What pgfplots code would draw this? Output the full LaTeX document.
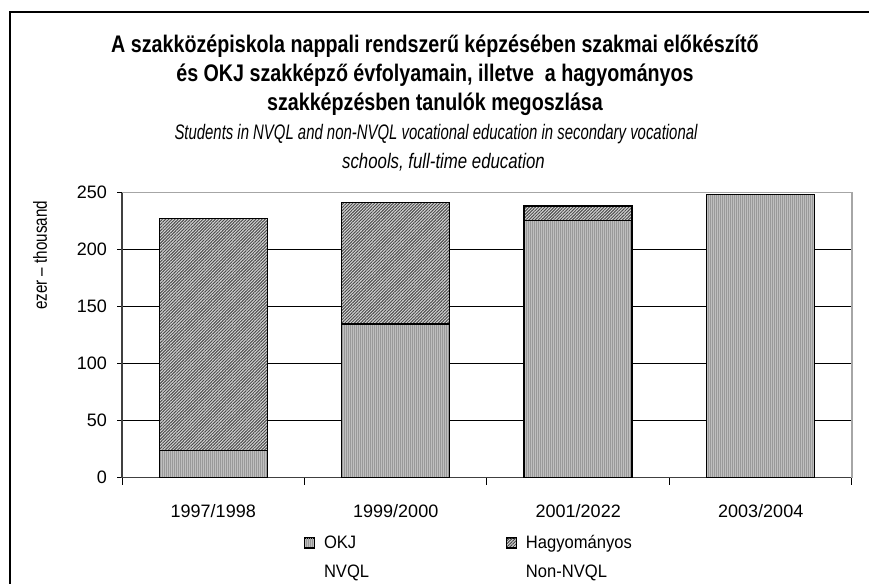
\documentclass[border=0pt]{standalone}
\usepackage{fontspec}
\setmainfont{Liberation Sans}
\newfontfamily\titlefont{Liberation Sans}[FakeStretch=0.82]
\newfontfamily\subfont{Liberation Sans}[FakeStretch=0.71]
\newfontfamily\subfontb{Liberation Sans}[FakeStretch=0.8]
\newfontfamily\legfont{Liberation Sans}[FakeStretch=0.92]
\newfontfamily\ylfont{Liberation Sans}[FakeStretch=0.8]
\usepackage{pgfplots}
\pgfplotsset{compat=1.18}
\usetikzlibrary{patterns.meta}
\pgfplotsset{
  boxlegend/.style={legend image code/.code={
    \draw[##1, line width=0.5pt] (0pt,0.5pt) rectangle (5pt,5.5pt);
  }},
}
\begin{document}
\begin{tikzpicture}
\useasboundingbox (0,0) rectangle (434.5pt,292pt);
\draw[line width=0.75pt] (5pt,0) -- (5pt,286pt) -- (434.5pt,286pt);
\node[anchor=base,font=\titlefont\bfseries\fontsize{12}{14}\selectfont] at (217.5pt,265.5pt) {A szakközépiskola nappali rendszerű képzésében szakmai előkészítő};
\node[anchor=base,font=\titlefont\bfseries\fontsize{12}{14}\selectfont] at (217.5pt,251pt) {és OKJ szakképző évfolyamain, illetve\ \ a hagyományos};
\node[anchor=base,font=\titlefont\bfseries\fontsize{12}{14}\selectfont] at (217.5pt,236.5pt) {szakképzésben tanulók megoszlása};
\node[anchor=base,font=\subfont\itshape\fontsize{10.5}{12}\selectfont] at (218pt,222pt) {Students in NVQL and non-NVQL vocational education in secondary vocational};
\node[anchor=base,font=\subfontb\itshape\fontsize{10.5}{12}\selectfont] at (221.75pt,207.5pt) {schools, full-time education};
\begin{axis}[
  at={(61pt,53.15pt)}, anchor=south west,
  width=365pt, height=142.5pt, scale only axis,
  clip=false,
  ybar stacked, bar width=54pt,
  every axis plot post/.append style={boxlegend},
  xmin=-0.5, xmax=3.5, ymin=0, ymax=250,
  xtick={0,1,2,3},
  xticklabels={1997/1998,1999/2000,2001/2022,2003/2004},
  major x tick style={draw=none},
  minor xtick={-0.5,0.5,1.5,2.5,3.5},
  minor tick length=3.5pt,
  ytick={0,50,100,150,200,250},
  tick align=outside, major tick length=2.5pt,
  tick style={black, line width=0.5pt},
  axis x line*=bottom, axis y line*=left,
  axis line style={black!75, line width=0.75pt},
  ymajorgrids, grid style={black, line width=0.5pt},
  /pgf/number format/assume math mode=true,
  ticklabel style={font=\fontsize{9}{10}\selectfont},
  xticklabel style={anchor=base, yshift=-17.5pt},
  yticklabel style={anchor=east, xshift=-1.5pt},
  ylabel={\ylfont\fontsize{9.5}{10}\selectfont ezer – thousand},
  ylabel style={at={(axis description cs:0,0.78)}, anchor=center, yshift=41pt},
  legend columns=2,
  legend style={draw=none, fill=none, inner sep=0pt, outer sep=0pt,
    at={(0,0)}, anchor=north west, xshift=91pt, yshift=-25.5pt,
    nodes={inner sep=0pt, outer sep=0pt, anchor=base west},
    column sep=0pt,
    /tikz/every odd column/.append style={column sep=4.5pt},
    font=\legfont\fontsize{9}{14.5}\selectfont},
]
\addplot[draw=black, line width=0.75pt, preaction={fill=gray!50},
  pattern={Lines[angle=90,distance=1pt,line width=0.3pt]}, pattern color=gray!80]
  coordinates {(0,24) (1,135) (2,225.5) (3,248.5)};
\addplot[draw=black, line width=0.75pt, preaction={fill=gray!30},
  pattern={Lines[angle=45,distance=1.1pt,line width=0.5pt]}, pattern color=black!70]
  coordinates {(0,203.5) (1,106.6) (2,12.8) (3,0)};
\legend{\makebox[91pt][l]{\begin{tabular}[t]{@{}l@{}}OKJ\\NVQL\end{tabular}},
        \begin{tabular}[t]{@{}l@{}}Hagyományos\\Non-NVQL\end{tabular}}
\draw[gray!70, line width=0.75pt] (rel axis cs:0,1) -- (rel axis cs:1,1) -- (rel axis cs:1,0);
\end{axis}
\end{tikzpicture}
\end{document}
